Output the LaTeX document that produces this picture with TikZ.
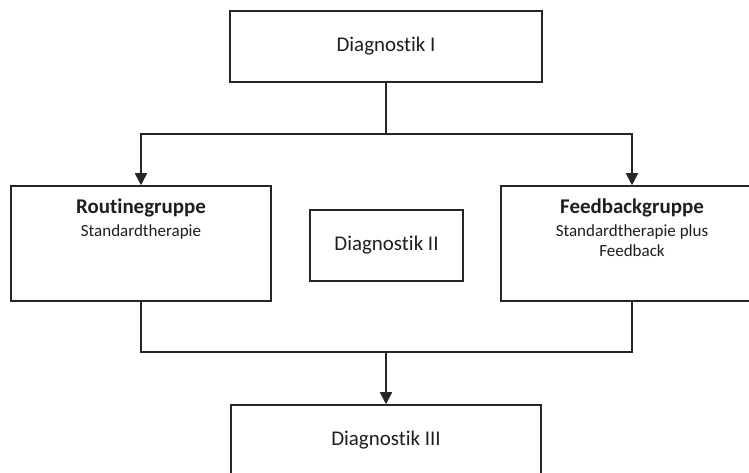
\documentclass[tikz,border=0pt]{standalone}
\usepackage{fontspec}
\setmainfont{Carlito}[Ligatures={NoCommon}]
\usetikzlibrary{arrows.meta,calc}
\definecolor{ink}{HTML}{262626}
\definecolor{txt}{HTML}{1E1E1E}
\begin{document}
\begin{tikzpicture}[x=0.75pt,y=-0.75pt,
  box/.style={draw=ink,line width=1.15pt,fill=white,inner sep=0pt},
  bigtext/.style={font=\fontsize{15.7pt}{19pt}\selectfont,text=txt},
  smalltext/.style={font=\fontsize{12.75pt}{15.3pt}\selectfont,text=txt,anchor=base,inner sep=0pt},
  titletext/.style={font=\fontsize{15.7pt}{19pt}\selectfont\bfseries,text=txt,anchor=base,inner sep=0pt},
  link/.style={draw=ink,line width=1.15pt},
  arrow/.style={link,-{Triangle[length=9pt,width=9pt]}}]
\useasboundingbox (0,0) rectangle (749,472);
\clip (0,0) rectangle (749,472);

% boxes
\node[box,bigtext,minimum width=234pt,minimum height=53.25pt] (d1) at (386,46.5) {Diagnostik I};
\node[box,bigtext,minimum width=114.75pt,minimum height=53.25pt] (d2) at (386.5,245.5) {Diagnostik II};
\node[box,bigtext,minimum width=232.5pt,minimum height=52.5pt] (d3) at (386,440) {Diagnostik III};
\node[box,minimum width=195pt,minimum height=86.25pt] (rg) at (141,243.5) {};
\node[box,minimum width=196.5pt,minimum height=86.25pt] (fb) at (632,243.5) {};

% group labels
\node[titletext] (rgt) at ($(rg.north)+(0,28)$) {Routinegruppe};
\node[smalltext] (rgs) at ($(rg.north)+(0,51)$) {Standardtherapie};
\node[titletext] (fbt) at ($(fb.north)+(0,28)$) {Feedbackgruppe};
\node[smalltext] (fbs) at ($(fb.north)+(0,51)$) {Standardtherapie plus};
\node[smalltext] (fbs2) at ($(fb.north)+(0,71)$) {Feedback};

% connectors
\coordinate (split) at (386,134);
\coordinate (merge) at (386,352);
\draw[link] (d1.south) -- (split);
\draw[arrow] (split) -| (rg.north);
\draw[arrow] (split) -| (fb.north);
\draw[link] (rg.south) |- (merge) -| (fb.south);
\draw[arrow] (merge) -- (d3.north);
\end{tikzpicture}
\end{document}
